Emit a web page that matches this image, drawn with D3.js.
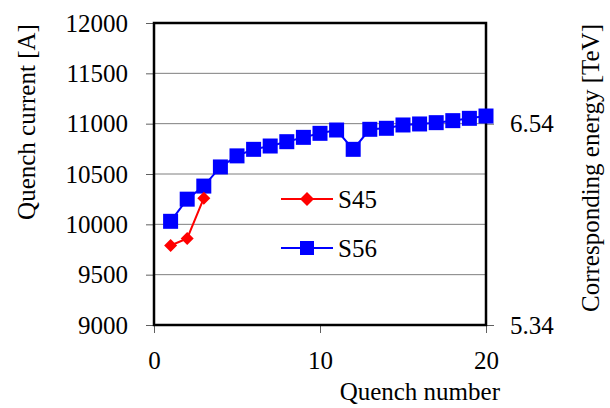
<!DOCTYPE html>
<html>
<head>
<meta charset="utf-8">
<script src="https://cdn.jsdelivr.net/npm/d3@7"></script>
<style>
  body { margin: 0; background: #fff; }
</style>
</head>
<body>
<svg id="chart" width="610" height="408"></svg>
<script>
// quench number 1..20
var quench = d3.range(1, 21);
var s45 = [9790, 9860, 10260];
var s56 = [10030, 10250, 10380, 10570, 10680, 10745, 10778, 10821, 10864, 10904,
           10937, 10745, 10944, 10954, 10987, 10997, 11010, 11030, 11053, 11076];
var leftTicks = [9000, 9500, 10000, 10500, 11000, 11500, 12000];
var xTicks = [0, 10, 20];
var rightTicks = [5.34, 6.54];

var svg = d3.select('#chart');
var plot = {l: 154, r: 486, t: 23, b: 325};
var font = 'Liberation Serif';
var fs = '25px';

var x = d3.scaleLinear().domain([0, 20]).range([plot.l, plot.r]);
var y = d3.scaleLinear().domain([9000, 12000]).range([plot.b, plot.t]);
// energy axis: 9000 A -> 5.34 TeV, 11000 A -> 6.54 TeV
var yR = d3.scaleLinear().domain([5.34, 6.54]).range([y(9000), y(11000)]);

// gridlines
svg.append('g')
    .selectAll('line')
    .data(leftTicks.filter(function (d) { return d > 9000 && d < 12000; }))
    .enter()
    .append('line')
    .attr('x1', plot.l).attr('x2', plot.r)
    .attr('y1', function (d) { return y(d); })
    .attr('y2', function (d) { return y(d); })
    .style('stroke', '#7f7f7f')
    .style('stroke-width', 1);

// axes
var gL = svg.append('g')
    .attr('transform', 'translate(' + plot.l + ',0)')
    .call(d3.axisLeft(y).tickValues(leftTicks).tickSize(8).tickPadding(18).tickFormat(d3.format('d')));
var gB = svg.append('g')
    .attr('transform', 'translate(0,' + plot.b + ')')
    .call(d3.axisBottom(x).tickValues(xTicks).tickSize(8).tickPadding(18).tickFormat(d3.format('d')));
var gR = svg.append('g')
    .attr('transform', 'translate(' + plot.r + ',0)')
    .call(d3.axisRight(yR).tickValues(rightTicks).tickSize(8).tickPadding(16).tickFormat(d3.format('.2f')));

[gL, gB, gR].forEach(function (g) {
    g.attr('font-family', font).attr('font-size', 25);
    g.select('.domain').remove();
    g.selectAll('line').style('stroke', '#606060').style('stroke-width', 1);
    g.selectAll('text').style('font-family', font).style('font-size', fs).style('fill', '#000');
});

// frame
svg.append('rect')
    .attr('x', plot.l).attr('y', plot.t)
    .attr('width', plot.r - plot.l).attr('height', plot.b - plot.t)
    .style('fill', 'none').style('stroke', '#000').style('stroke-width', 2.5);

// series
var line = d3.line()
    .x(function (d, i) { return x(quench[i]); })
    .y(function (d) { return y(d); });

var blue = '#0000ff', red = '#ff0000';
var sq = 15, dm = 13;

function diamondPath(cx, cy, s) {
    var h = s / 2;
    return 'M' + cx + ',' + (cy - h) + 'L' + (cx + h) + ',' + cy + 'L' + cx + ',' + (cy + h) + 'L' + (cx - h) + ',' + cy + 'Z';
}

svg.append('path').datum(s56).attr('d', line)
    .style('fill', 'none').style('stroke', blue).style('stroke-width', 2);
svg.append('g').selectAll('rect').data(s56).enter().append('rect')
    .attr('x', function (d, i) { return x(quench[i]) - sq / 2; })
    .attr('y', function (d) { return y(d) - sq / 2; })
    .attr('width', sq).attr('height', sq)
    .style('fill', blue);

svg.append('path').datum(s45).attr('d', line)
    .style('fill', 'none').style('stroke', red).style('stroke-width', 2);
svg.append('g').selectAll('path').data(s45).enter().append('path')
    .attr('d', function (d, i) { return diamondPath(x(quench[i]), y(d), dm); })
    .style('fill', red);

// legend
var legend = [{name: 'S45', color: red, shape: 'diamond', y: 199},
              {name: 'S56', color: blue, shape: 'square', y: 248}];
var lg = svg.append('g').selectAll('g').data(legend).enter().append('g')
    .attr('transform', function (d) { return 'translate(281,' + d.y + ')'; });
lg.append('line')
    .attr('x1', 0).attr('x2', 52).attr('y1', 0).attr('y2', 0)
    .style('stroke', function (d) { return d.color; }).style('stroke-width', 2);
lg.each(function (d) {
    var g = d3.select(this);
    if (d.shape === 'diamond') {
        g.append('path').attr('d', diamondPath(26, 0, 14)).style('fill', d.color);
    } else {
        g.append('rect').attr('x', 19).attr('y', -7).attr('width', 14).attr('height', 14).style('fill', d.color);
    }
});
lg.append('text')
    .attr('x', 57).attr('y', 9)
    .style('font-family', font)
    .style('font-size', fs)
    .text(function (d) { return d.name; });

// axis titles
svg.append('text')
    .attr('transform', 'translate(35,122) rotate(-90)')
    .style('text-anchor', 'middle')
    .style('font-family', font)
    .style('font-size', fs)
    .text('Quench current [A]');
svg.append('text')
    .attr('transform', 'translate(599,168) rotate(-90)')
    .style('text-anchor', 'middle')
    .style('font-family', font)
    .style('font-size', fs)
    .text('Corresponding energy [TeV]');
svg.append('text')
    .attr('x', 500).attr('y', 400)
    .style('text-anchor', 'end')
    .style('font-family', font)
    .style('font-size', fs)
    .text('Quench number');
</script>
</body>
</html>
